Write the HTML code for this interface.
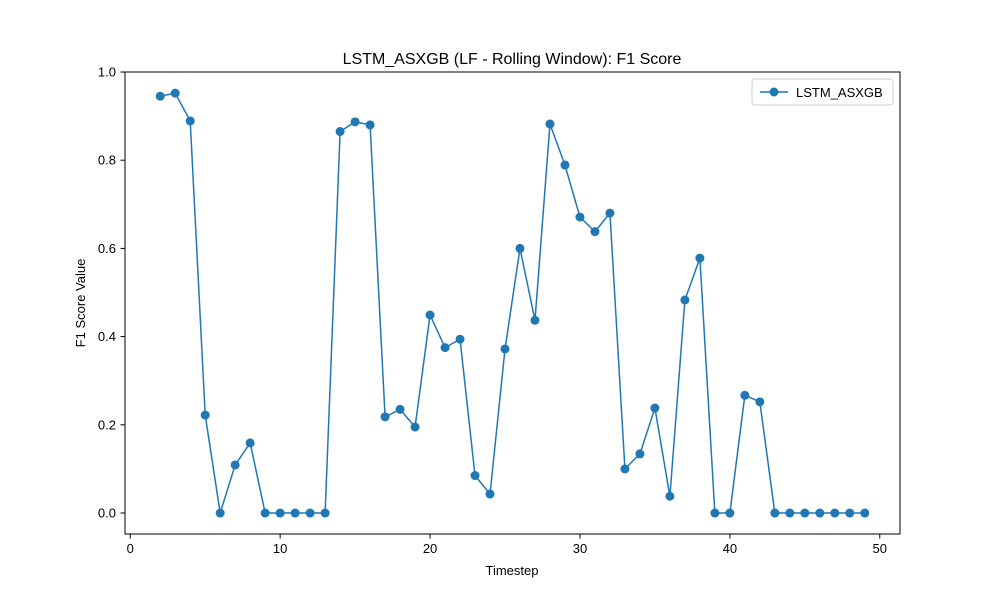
<!DOCTYPE html>
<html><head><meta charset="utf-8"><style>
body{margin:0;background:#fff;}
svg{display:block;font-family:"Liberation Sans","DejaVu Sans",sans-serif;}
</style></head><body>
<svg id="chart" width="1000" height="600">
<rect width="1000" height="600" fill="#fff"/>
<text x="512" y="64" text-anchor="middle" font-size="16">LSTM_ASXGB (LF - Rolling Window): F1 Score</text>
<text x="512" y="575" text-anchor="middle" font-size="13">Timestep</text>
<text transform="translate(85,303) rotate(-90)" text-anchor="middle" font-size="13">F1 Score Value</text>
<g id="ticks"></g>
<g id="series"></g>
<rect x="125" y="72" width="775" height="462" fill="none" stroke="#000" stroke-width="1"/>
<g>
<rect x="752" y="79" width="141" height="26" rx="3" fill="#fff" stroke="#ccc"/>
<line x1="760" y1="92" x2="788" y2="92" stroke="#1f77b4" stroke-width="1.5"/>
<circle cx="774" cy="92" r="4.5" fill="#1f77b4"/>
<text x="796" y="97" font-size="13">LSTM_ASXGB</text>
</g>
</svg>
<script>
const timesteps=[2,3,4,5,6,7,8,9,10,11,12,13,14,15,16,17,18,19,20,21,22,23,24,25,26,27,28,29,30,31,32,33,34,35,36,37,38,39,40,41,42,43,44,45,46,47,48,49];
const f1Values=[0.945,0.952,0.889,0.222,0,0.109,0.159,0,0,0,0,0,0.865,0.887,0.880,0.218,0.235,0.195,0.449,0.375,0.394,0.085,0.043,0.372,0.600,0.437,0.882,0.789,0.671,0.638,0.680,0.100,0.134,0.238,0.038,0.483,0.578,0,0,0.267,0.252,0,0,0,0,0,0,0];
const xTicks=[0,10,20,30,40,50];
const yTicks=[0.0,0.2,0.4,0.6,0.8,1.0];
const NS="http://www.w3.org/2000/svg";
const xMin=-0.35,xMax=51.35,yMin=-0.0476,yMax=1.0;
const X=v=>125+(v-xMin)/(xMax-xMin)*775;
const Y=v=>534-(v-yMin)/(yMax-yMin)*462;
const tg=document.getElementById('ticks'),sg=document.getElementById('series');
function mk(tag,attrs,parent){const e=document.createElementNS(NS,tag);for(const k in attrs)e.setAttribute(k,attrs[k]);parent.appendChild(e);return e;}
xTicks.forEach(t=>{
 const l=mk('line',{x1:X(t),x2:X(t),y1:534,y2:538.5,stroke:'#000'},tg);
 
 
 const tx=mk('text',{x:X(t),y:553,'text-anchor':'middle','font-size':13},tg);tx.textContent=t;
 
 
});
yTicks.forEach(t=>{
 const l=mk('line',{x1:120.5,x2:125,y1:Y(t),y2:Y(t),stroke:'#000'},tg);
 
 
 const tx=mk('text',{x:116,y:Y(t)+4.5,'text-anchor':'end','font-size':13},tg);tx.textContent=t.toFixed(1);
 
 
});
const pts=timesteps.map((t,i)=>X(t)+','+Y(f1Values[i])).join(' ');
const pl=mk('polyline',{points:pts,fill:'none',stroke:'#1f77b4','stroke-width':1.5},sg);


timesteps.forEach((t,i)=>{
 const c=mk('circle',{cx:X(t),cy:Y(f1Values[i]),r:4.5,fill:'#1f77b4'},sg);
 
 
});
</script>
</body></html>
